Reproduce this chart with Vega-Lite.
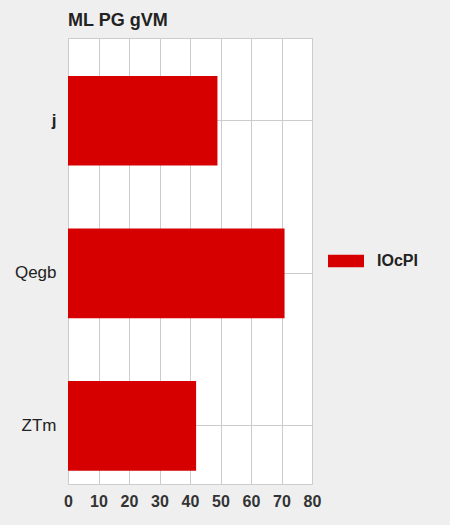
{
  "$schema": "https://vega.github.io/schema/vega-lite/v6.json",
  "autosize": {"type": "none"},
  "padding": {"left": 68, "top": 38, "right": 138, "bottom": 41},
  "width": 244,
  "height": 446,
  "background": "#efefef",
  "title": {
    "text": "ML PG gVM",
    "anchor": "start",
    "frame": "group",
    "font": "Liberation Sans",
    "fontSize": 18,
    "fontWeight": "bold",
    "color": "#222222",
    "offset": 8
  },
  "config": {
    "view": {"stroke": "#cccccc", "strokeWidth": 1, "fill": "white"}
  },
  "data": {
    "values": [
      {"category": "j", "value": 49, "series": "IOcPI"},
      {"category": "Qegb", "value": 71, "series": "IOcPI"},
      {"category": "ZTm", "value": 42, "series": "IOcPI"}
    ]
  },
  "mark": {"type": "bar"},
  "encoding": {
    "y": {
      "field": "category",
      "type": "nominal",
      "sort": ["j", "Qegb", "ZTm"],
      "scale": {"paddingInner": 0.412, "paddingOuter": 0.168, "align": 0.74},
      "axis": {
        "title": null,
        "domain": false,
        "ticks": false,
        "grid": true,
        "bandPosition": 0.5,
        "gridColor": "#cccccc",
        "labelPadding": 12,
        "labelFont": "Liberation Sans",
        "labelFontSize": 17,
        "labelFontWeight": {"condition": {"test": "datum.value == 'j'", "value": "bold"}, "value": "normal"},
        "labelColor": "#222222"
      }
    },
    "x": {
      "field": "value",
      "type": "quantitative",
      "scale": {"domain": [0, 80], "nice": false},
      "axis": {
        "title": null,
        "values": [0, 10, 20, 30, 40, 50, 60, 70, 80],
        "domain": false,
        "ticks": false,
        "grid": true,
        "gridColor": "#cccccc",
        "labelPadding": 9,
        "labelFont": "Liberation Sans",
        "labelFontSize": 16,
        "labelFontWeight": "bold",
        "labelColor": "#333333",
        "labelFlush": false
      }
    },
    "color": {
      "field": "series",
      "type": "nominal",
      "scale": {"range": ["#d60000"]},
      "legend": {
        "title": null,
        "orient": "none",
        "legendX": 260,
        "legendY": 205,
        "symbolType": "M-1,-0.35h2v0.7h-2z",
        "symbolSize": 1296,
        "symbolStrokeWidth": 0,
        "labelFont": "Liberation Sans",
        "labelFontSize": 16,
        "labelFontWeight": "bold",
        "labelColor": "#222222",
        "labelOffset": 13
      }
    }
  }
}
